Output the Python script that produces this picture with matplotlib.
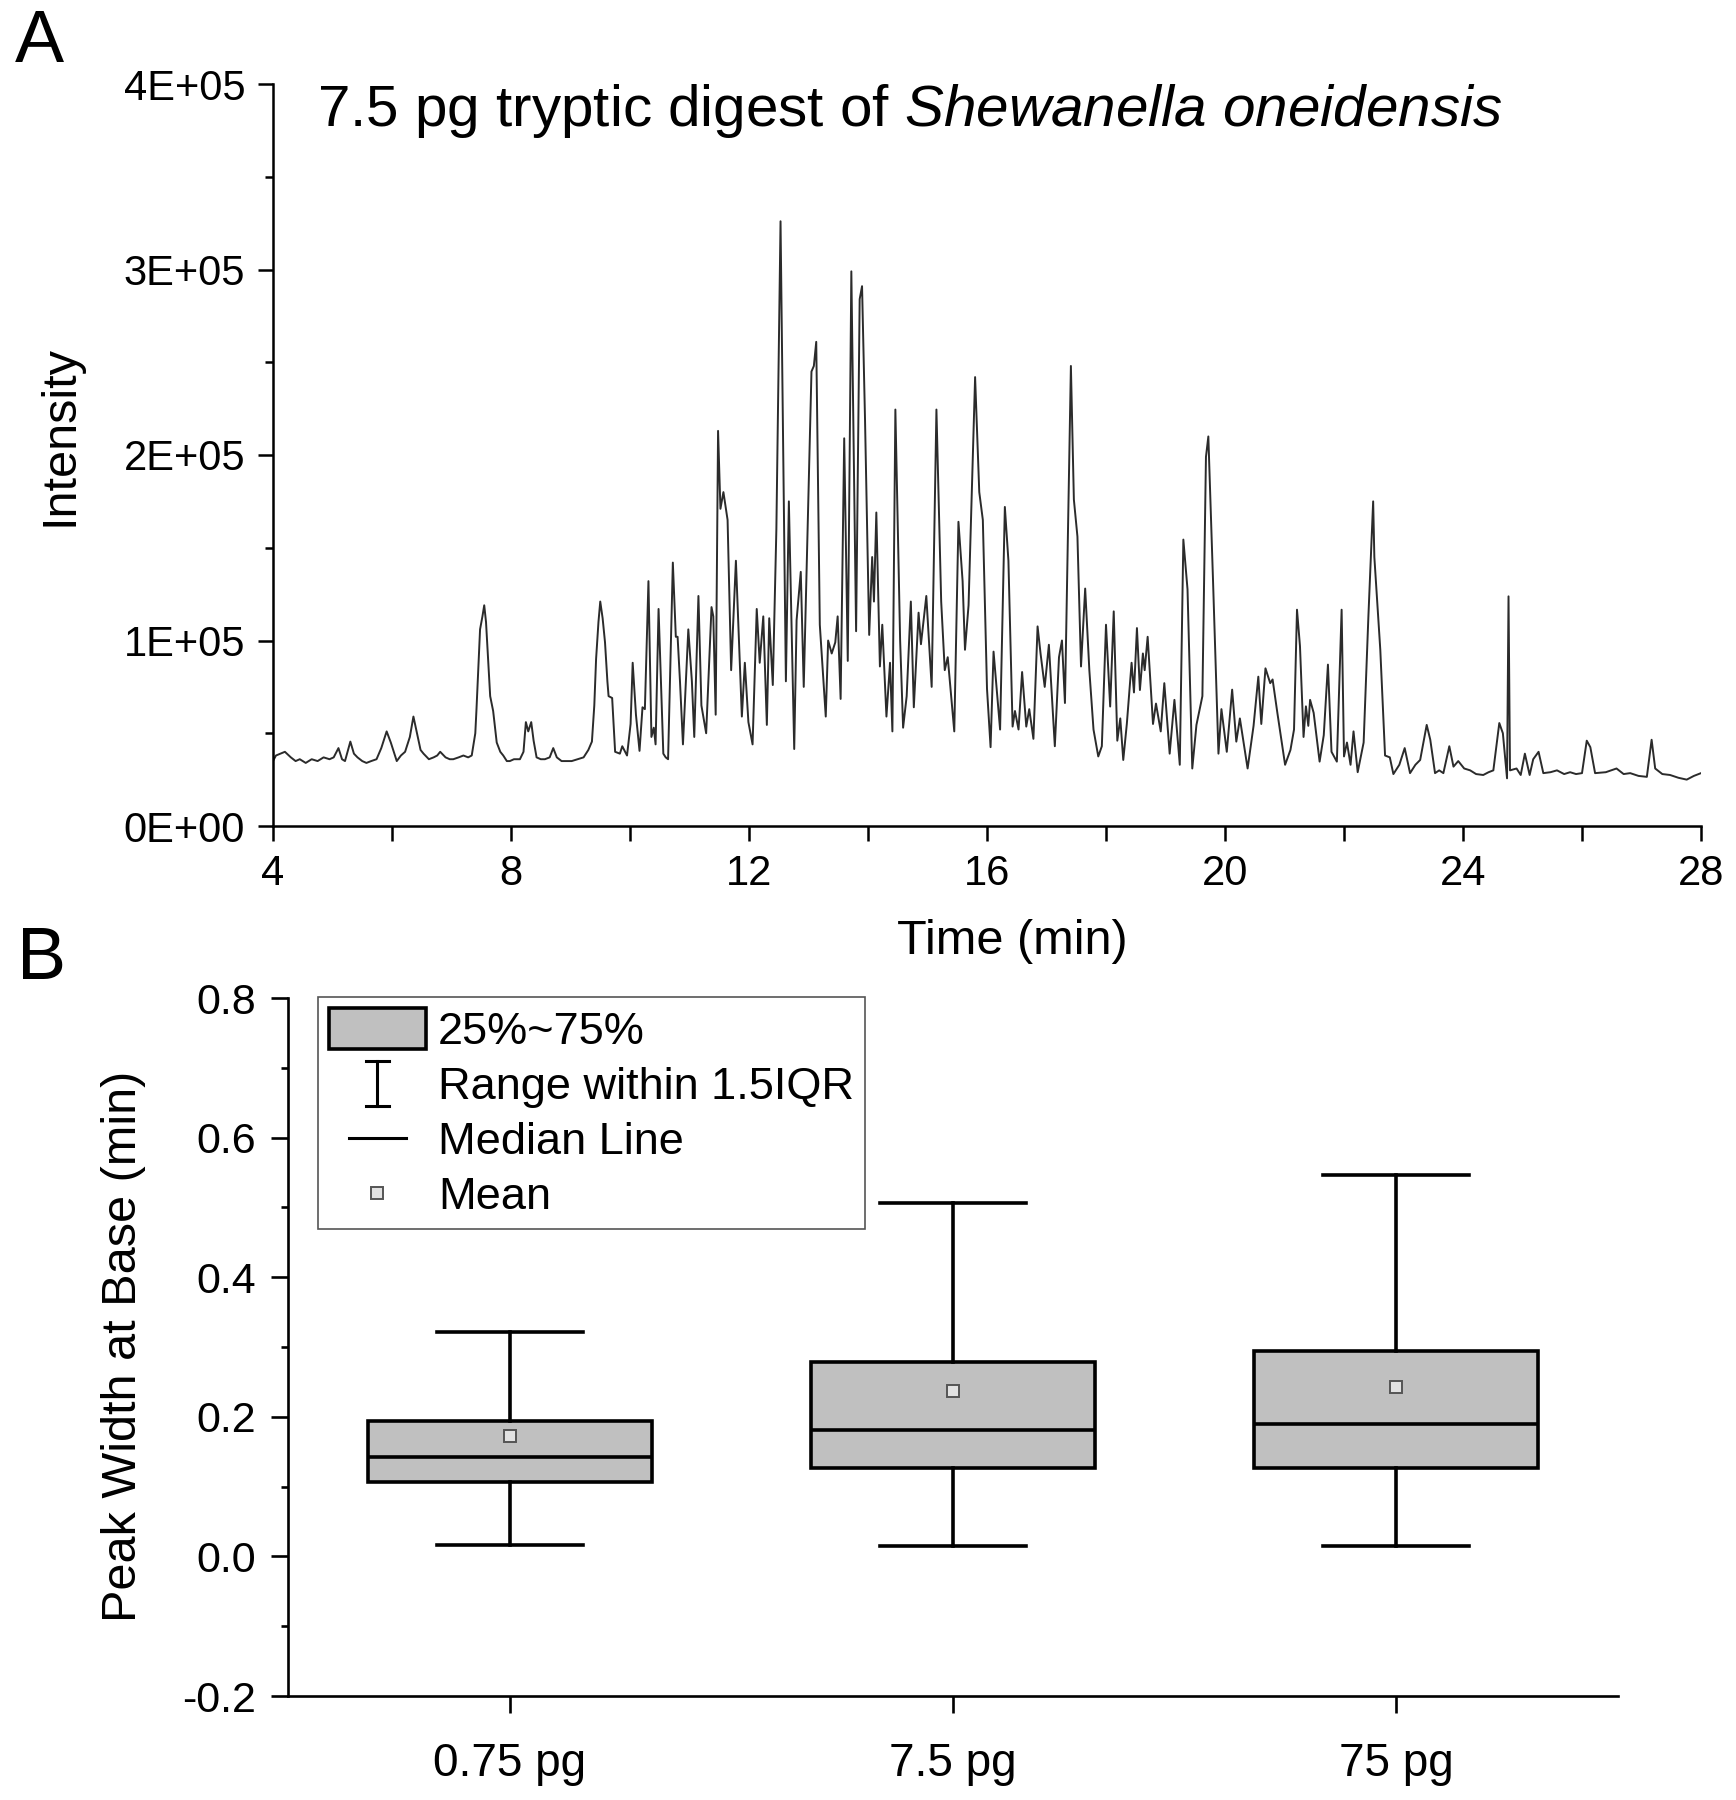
import numpy as np
import matplotlib.pyplot as plt
from matplotlib.lines import Line2D
from matplotlib.patches import Rectangle
from matplotlib.legend_handler import HandlerBase
from matplotlib.ticker import MultipleLocator

plt.rcParams['font.family'] = ['Liberation Sans', 'DejaVu Sans']
plt.rcParams['mathtext.fontset'] = 'custom'
plt.rcParams['mathtext.rm'] = 'Liberation Sans'
plt.rcParams['mathtext.it'] = 'Liberation Sans:italic'

# ---- panel A: base peak chromatogram, (time in min, intensity in 1E+05) ----
trace_points = [
    (4.00, 0.35), (4.05, 0.38), (4.20, 0.40), (4.30, 0.37), (4.38, 0.35), (4.45, 0.36),
    (4.55, 0.34), (4.65, 0.36), (4.75, 0.35), (4.85, 0.37), (4.95, 0.36), (5.02, 0.37),
    (5.10, 0.42), (5.16, 0.36), (5.21, 0.35), (5.30, 0.455), (5.36, 0.39), (5.42, 0.37),
    (5.50, 0.35), (5.57, 0.34), (5.65, 0.35), (5.74, 0.36), (5.82, 0.42), (5.91, 0.51),
    (5.98, 0.45), (6.08, 0.35), (6.15, 0.38), (6.22, 0.40), (6.30, 0.48), (6.36, 0.59),
    (6.42, 0.50), (6.48, 0.41), (6.53, 0.39), (6.62, 0.36), (6.70, 0.37), (6.76, 0.38),
    (6.81, 0.40), (6.90, 0.37), (6.97, 0.36), (7.03, 0.36), (7.12, 0.37), (7.20, 0.38),
    (7.28, 0.37), (7.34, 0.38), (7.40, 0.50), (7.42, 0.63), (7.48, 1.06), (7.52, 1.13),
    (7.55, 1.19), (7.58, 1.10), (7.65, 0.70), (7.70, 0.62), (7.76, 0.45), (7.82, 0.40),
    (7.87, 0.38), (7.93, 0.35), (7.98, 0.35), (8.05, 0.36), (8.15, 0.36), (8.21, 0.40),
    (8.25, 0.56), (8.29, 0.51), (8.34, 0.56), (8.38, 0.46), (8.43, 0.37), (8.50, 0.36),
    (8.57, 0.36), (8.65, 0.37), (8.71, 0.42), (8.77, 0.37), (8.85, 0.35), (8.95, 0.35),
    (9.02, 0.35), (9.12, 0.36), (9.22, 0.37), (9.30, 0.41), (9.36, 0.455), (9.40, 0.65),
    (9.43, 0.90), (9.47, 1.10), (9.50, 1.21), (9.54, 1.12), (9.58, 0.99), (9.62, 0.78),
    (9.64, 0.70), (9.70, 0.69), (9.75, 0.40), (9.83, 0.39), (9.87, 0.43), (9.95, 0.38),
    (10.01, 0.55), (10.045, 0.88), (10.10, 0.60), (10.16, 0.405), (10.21, 0.64), (10.25, 0.63),
    (10.31, 1.32), (10.36, 0.48), (10.40, 0.53), (10.43, 0.44), (10.48, 1.17), (10.56, 0.39),
    (10.60, 0.37), (10.64, 0.36), (10.72, 1.42), (10.77, 1.02), (10.80, 1.02), (10.84, 0.78),
    (10.89, 0.44), (10.98, 1.06), (11.04, 0.78), (11.08, 0.48), (11.15, 1.24), (11.20, 0.65),
    (11.28, 0.50), (11.37, 1.18), (11.40, 1.13), (11.44, 0.60), (11.48, 2.13), (11.52, 1.71),
    (11.57, 1.80), (11.64, 1.65), (11.70, 0.84), (11.78, 1.43), (11.88, 0.59), (11.93, 0.88),
    (11.99, 0.56), (12.06, 0.44), (12.13, 1.17), (12.18, 0.88), (12.24, 1.13), (12.30, 0.545),
    (12.34, 1.12), (12.40, 0.76), (12.46, 1.60), (12.53, 3.26), (12.58, 1.86), (12.62, 0.78),
    (12.67, 1.75), (12.76, 0.415), (12.80, 1.11), (12.87, 1.37), (12.92, 0.75), (13.05, 2.45),
    (13.09, 2.48), (13.13, 2.61), (13.19, 1.085), (13.29, 0.59), (13.33, 1.00), (13.39, 0.93),
    (13.45, 0.99), (13.49, 1.13), (13.54, 0.685), (13.60, 2.09), (13.66, 0.89), (13.72, 2.99),
    (13.80, 1.05), (13.86, 2.84), (13.90, 2.91), (13.95, 2.19), (14.02, 1.03), (14.07, 1.45),
    (14.10, 1.21), (14.14, 1.69), (14.20, 0.86), (14.24, 1.085), (14.31, 0.59), (14.37, 0.88),
    (14.41, 0.51), (14.46, 2.245), (14.54, 1.00), (14.59, 0.53), (14.65, 0.70), (14.72, 1.21),
    (14.77, 0.64), (14.85, 1.15), (14.89, 0.98), (14.98, 1.24), (15.07, 0.75), (15.15, 2.245),
    (15.23, 1.21), (15.29, 0.84), (15.34, 0.91), (15.45, 0.51), (15.52, 1.64), (15.59, 1.32),
    (15.63, 0.95), (15.69, 1.19), (15.80, 2.42), (15.87, 1.80), (15.93, 1.65), (16.00, 0.74),
    (16.06, 0.425), (16.11, 0.94), (16.22, 0.52), (16.30, 1.72), (16.36, 1.43), (16.43, 0.536),
    (16.47, 0.62), (16.53, 0.52), (16.59, 0.83), (16.66, 0.536), (16.71, 0.63), (16.78, 0.47),
    (16.85, 1.076), (16.90, 0.93), (16.97, 0.75), (17.04, 0.977), (17.14, 0.43), (17.21, 0.91),
    (17.26, 1.00), (17.31, 0.663), (17.41, 2.48), (17.46, 1.76), (17.52, 1.56), (17.58, 0.86),
    (17.65, 1.28), (17.72, 0.84), (17.79, 0.52), (17.87, 0.375), (17.93, 0.43), (18.00, 1.085),
    (18.07, 0.644), (18.13, 1.157), (18.19, 0.46), (18.24, 0.58), (18.29, 0.356), (18.35, 0.55),
    (18.43, 0.88), (18.47, 0.72), (18.52, 1.067), (18.57, 0.733), (18.62, 0.93), (18.65, 0.84),
    (18.70, 1.02), (18.79, 0.55), (18.84, 0.66), (18.92, 0.51), (18.98, 0.77), (19.07, 0.39),
    (19.15, 0.68), (19.24, 0.33), (19.30, 1.544), (19.37, 1.276), (19.45, 0.31), (19.52, 0.545),
    (19.62, 0.70), (19.68, 1.99), (19.72, 2.10), (19.80, 1.31), (19.89, 0.39), (19.94, 0.63),
    (20.03, 0.40), (20.12, 0.735), (20.19, 0.455), (20.25, 0.58), (20.38, 0.31), (20.48, 0.54),
    (20.56, 0.805), (20.61, 0.55), (20.68, 0.85), (20.76, 0.77), (20.80, 0.79), (20.88, 0.61),
    (21.01, 0.33), (21.10, 0.41), (21.16, 0.52), (21.21, 1.166), (21.26, 0.97), (21.32, 0.48),
    (21.36, 0.645), (21.40, 0.54), (21.43, 0.68), (21.49, 0.61), (21.59, 0.347), (21.66, 0.49),
    (21.73, 0.87), (21.79, 0.40), (21.88, 0.347), (21.96, 1.166), (22.00, 0.375), (22.05, 0.45),
    (22.11, 0.33), (22.16, 0.51), (22.23, 0.29), (22.33, 0.45), (22.41, 1.13), (22.49, 1.75),
    (22.51, 1.45), (22.61, 0.95), (22.69, 0.38), (22.77, 0.37), (22.83, 0.28), (22.93, 0.33),
    (23.02, 0.42), (23.11, 0.285), (23.20, 0.33), (23.28, 0.356), (23.39, 0.545), (23.45, 0.465),
    (23.53, 0.285), (23.60, 0.30), (23.67, 0.285), (23.77, 0.43), (23.84, 0.32), (23.92, 0.35),
    (24.02, 0.31), (24.12, 0.30), (24.22, 0.28), (24.34, 0.275), (24.43, 0.29), (24.51, 0.30),
    (24.61, 0.555), (24.67, 0.50), (24.74, 0.257), (24.765, 1.238), (24.79, 0.30), (24.90, 0.31),
    (24.97, 0.275), (25.04, 0.39), (25.12, 0.275), (25.18, 0.36), (25.27, 0.40), (25.35, 0.285),
    (25.47, 0.29), (25.58, 0.30), (25.70, 0.28), (25.80, 0.29), (25.90, 0.28), (26.00, 0.285),
    (26.08, 0.46), (26.14, 0.425), (26.22, 0.285), (26.40, 0.29), (26.58, 0.31), (26.70, 0.28),
    (26.81, 0.285), (26.95, 0.27), (27.09, 0.265), (27.17, 0.465), (27.23, 0.31), (27.35, 0.28),
    (27.48, 0.275), (27.62, 0.26), (27.76, 0.25), (27.88, 0.27), (28.00, 0.285),
]
ytick_vals_A = [0, 1e5, 2e5, 3e5, 4e5]
ytick_labels_A = ['0E+00', '1E+05', '2E+05', '3E+05', '4E+05']
xtick_vals_A = [4, 8, 12, 16, 20, 24, 28]

# ---- panel B: peak width box plots ----
groups = ['0.75 pg', '7.5 pg', '75 pg']
q1 = [0.107, 0.127, 0.127]
q3 = [0.194, 0.278, 0.294]
median = [0.143, 0.181, 0.189]
mean = [0.173, 0.237, 0.243]
whisker_lo = [0.016, 0.015, 0.015]
whisker_hi = [0.322, 0.507, 0.546]

box_face = '#c0c0c0'
W, H = 1736, 1800

fig = plt.figure(figsize=(W / 100, H / 100), dpi=100)

# panel A
axA = fig.add_axes([273 / W, 1 - 826 / H, (1701 - 273) / W, (826 - 84) / H])
t = np.array([p[0] for p in trace_points])
inten = np.array([p[1] for p in trace_points]) * 1e5
axA.plot(t, inten, color='#2b2b2b', lw=1.4)
axA.set_xlim(4, 28)
axA.set_ylim(0, 4e5)
axA.set_xticks(xtick_vals_A)
axA.xaxis.set_minor_locator(MultipleLocator(2))
axA.set_yticks(ytick_vals_A, labels=ytick_labels_A)
axA.yaxis.set_minor_locator(MultipleLocator(0.5e5))
for s in ['top', 'right']:
    axA.spines[s].set_visible(False)
for s in ['left', 'bottom']:
    axA.spines[s].set_linewidth(1.8)
axA.tick_params(axis='both', which='major', direction='out', length=11, width=1.8,
                labelsize=30)
axA.tick_params(axis='y', which='major', pad=9)
axA.tick_params(axis='x', which='major', pad=9)
axA.tick_params(axis='y', which='minor', direction='out', length=5.5, width=1.8)
axA.tick_params(axis='x', which='minor', direction='out', length=11, width=1.8)

fig.text(317 / W, 1 - 126 / H,
         r'7.5 pg tryptic digest of $\it{Shewanella\ oneidensis}$',
         fontsize=42, ha='left', va='baseline')
fig.text(60 / W, 1 - 436 / H, 'Intensity', rotation=90, fontsize=35,
         ha='center', va='center')
fig.text(1012 / W, 1 - 941 / H, 'Time (min)', fontsize=35, ha='center', va='center')
fig.text(15 / W, 1 - 8 / H, 'A', fontsize=53, ha='left', va='top')

# panel B
axB = fig.add_axes([288 / W, 1 - 1696 / H, (1618 - 288) / W, (1696 - 998) / H])
stats = []
for i in range(len(groups)):
    stats.append(dict(med=median[i], q1=q1[i], q3=q3[i], whislo=whisker_lo[i],
                      whishi=whisker_hi[i], mean=mean[i], fliers=[], label=groups[i]))
lw_box = 2.6
axB.bxp(stats, positions=[1, 2, 3], widths=0.64, capwidths=0.33, showmeans=True,
        showfliers=False, patch_artist=True,
        boxprops=dict(facecolor=box_face, edgecolor='black', linewidth=lw_box),
        medianprops=dict(color='black', linewidth=lw_box),
        whiskerprops=dict(color='black', linewidth=lw_box),
        capprops=dict(color='black', linewidth=lw_box),
        meanprops=dict(marker='s', markersize=8, markerfacecolor='#e2e2e2',
                       markeredgecolor='#555555', markeredgewidth=1.4))
axB.set_xlim(0.5, 3.5)
axB.set_ylim(-0.2, 0.8)
axB.set_xticks([1, 2, 3], labels=groups)
axB.set_yticks([-0.2, 0.0, 0.2, 0.4, 0.6, 0.8],
               labels=['-0.2', '0.0', '0.2', '0.4', '0.6', '0.8'])
axB.yaxis.set_minor_locator(MultipleLocator(0.1))
for s in ['top', 'right']:
    axB.spines[s].set_visible(False)
for s in ['left', 'bottom']:
    axB.spines[s].set_linewidth(1.9)
axB.tick_params(axis='both', which='major', direction='out', length=12, width=1.9,
                labelsize=31)
axB.tick_params(axis='x', which='major', labelsize=33, pad=21)
axB.tick_params(axis='y', which='major', pad=11)
axB.tick_params(axis='y', which='minor', direction='out', length=5, width=1.9)

fig.text(124 / W, 1 - 1346 / H, 'Peak Width at Base (min)', rotation=90, fontsize=35,
         ha='center', va='center')
fig.text(17 / W, 1 - 925 / H, 'B', fontsize=53, ha='left', va='top')


class LegendSymbol(HandlerBase):
    def __init__(self, kind):
        super().__init__()
        self.kind = kind

    def create_artists(self, legend, orig_handle, xdescent, ydescent, width, height,
                       fontsize, trans):
        cx = -xdescent + width / 2
        y0 = -ydescent
        y1 = -ydescent + height
        cy = (y0 + y1) / 2
        arts = []
        if self.kind == 'whisker':
            cap = width * 0.12
            half = height * 0.55
            arts = [Line2D([cx, cx], [cy - half, cy + half]),
                    Line2D([cx - cap, cx + cap], [cy - half, cy - half]),
                    Line2D([cx - cap, cx + cap], [cy + half, cy + half])]
            for a in arts:
                a.set_color('black')
                a.set_linewidth(2.2)
        elif self.kind == 'median':
            half = width * 0.29
            arts = [Line2D([cx - half, cx + half], [cy, cy], color='black', lw=2.2)]
        elif self.kind == 'mean':
            arts = [Line2D([cx], [cy], marker='s', markersize=8, markerfacecolor='#e2e2e2',
                           markeredgecolor='#555555', markeredgewidth=1.4, linestyle='none')]
        for a in arts:
            a.set_transform(trans)
        return arts


h_box = Rectangle((0, 0), 1, 1, facecolor=box_face, edgecolor='black', linewidth=lw_box)
h_whisk = Line2D([], [])
h_med = Line2D([], [])
h_mean = Line2D([], [])
leg = axB.legend([h_box, h_whisk, h_med, h_mean],
                 ['25%~75%', 'Range within 1.5IQR', 'Median Line', 'Mean'],
                 handler_map={h_whisk: LegendSymbol('whisker'),
                              h_med: LegendSymbol('median'),
                              h_mean: LegendSymbol('mean')},
                 loc='upper left', bbox_to_anchor=(318 / W, 1 - 997 / H),
                 bbox_transform=fig.transFigure, borderaxespad=0,
                 fontsize=32.5, handlelength=2.15, handleheight=1.03, handletextpad=0.27,
                 labelspacing=0.22, borderpad=0.24, fancybox=False, framealpha=1,
                 edgecolor='#555555')
leg.get_frame().set_linewidth(1.2)

fig.savefig('out.png', dpi=100)
